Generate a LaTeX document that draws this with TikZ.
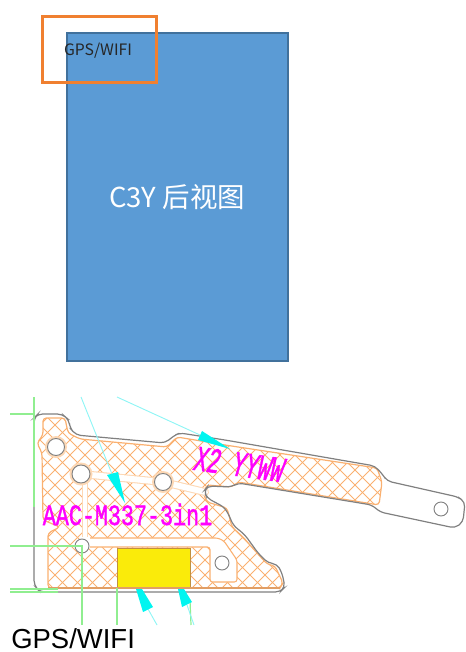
\documentclass[tikz,border=0pt]{standalone}
\usepackage{fontspec}
\usepackage{graphicx}
\setmainfont{Liberation Sans}
\newfontfamily\cjkfont{Noto Sans CJK SC}
\newfontfamily\cadfont{Liberation Mono}[FakeBold=1.5]
\newfontfamily\cadslant{Liberation Mono}[FakeSlant=0.25,FakeBold=1.5]
\definecolor{boxblue}{HTML}{5B9BD5}
\definecolor{boxedge}{HTML}{41719C}
\definecolor{boxorange}{HTML}{F08030}
\definecolor{hatchorange}{HTML}{FAB070}
\definecolor{haloorange}{HTML}{FDD8B5}
\definecolor{cadgreen}{HTML}{90EE90}
\definecolor{cadcyan}{HTML}{00F5F0}
\definecolor{cadline}{HTML}{8FF5F5}
\definecolor{outlinegray}{HTML}{808080}
\definecolor{cadmagenta}{HTML}{FF00FF}
\definecolor{patchyellow}{HTML}{FAEB0A}
\definecolor{patchedge}{HTML}{C09040}
\tikzset{
  outlinepart/.style={draw=outlinegray,line width=0.9pt,rounded corners=3.5pt},
  hatchedge/.style={draw=hatchorange,line width=0.9pt,rounded corners=2.5pt},
  hatchline/.style={draw=hatchorange,line width=0.75pt},
  channel/.style={draw=hatchorange,line width=0.8pt,fill=white,rounded corners=2pt},
  hole/.style={draw=outlinegray,line width=0.7pt,fill=white},
  greenline/.style={draw=cadgreen,line width=0.9pt},
  cyanline/.style={draw=cadline,line width=0.7pt},
  cyanhead/.style={fill=cadcyan,draw=none},
  cadtext/.style={text=cadmagenta,inner sep=0pt,anchor=center},
}
\begin{document}
\begin{tikzpicture}[x=0.75pt,y=-0.75pt]
\useasboundingbox (0,0) rectangle (465,652);
% upper drawing
\node[draw=boxedge,fill=boxblue,line width=1.5pt,minimum width=166pt,minimum height=246pt,inner sep=0pt] (back) at (177.5,197) {};
\node[draw=boxorange,line width=2.2pt,minimum width=86pt,minimum height=50pt,inner sep=0pt] (mark) at (99.5,49.5) {};
\node[inner sep=0pt,text=black!85] (marktext) at (98,51) {\cjkfont\fontsize{11.8pt}{13pt}\selectfont GPS/WIFI};
\node[inner sep=0pt,text=white] (backtext) at (177,197) {\cjkfont\fontsize{20.6pt}{24pt}\selectfont C3Y 后视图};
% hatch area
\begin{scope}
\clip[rounded corners=2.5pt] (43,418) -- (65,418) -- (68,433) -- (80,439) -- (167,447) -- (177,437) -- (225,445) -- (377,468) -- (382,482) -- (379,505) -- (238,482) -- (232,487) -- (207,485) -- (203,493) -- (207,502) -- (227,508) -- (232,527) -- (243,537) -- (257,553) -- (267,564) -- (275,566) -- (283,583) -- (280,588) -- (48,588) -- (48,533) -- (60,527) -- (43,520) -- (42,453) -- (37,443) -- (43,435) -- cycle;
\foreach \i in {-300,-285,...,600} {
  \draw[hatchline] (\i,400) -- (\i+200,600);
  \draw[hatchline] (\i+200,400) -- (\i,600);
}
\end{scope}
\draw[hatchedge] (43,418) -- (65,418) -- (68,433) -- (80,439) -- (167,447) -- (177,437) -- (225,445) -- (377,468) -- (382,482) -- (379,505) -- (238,482) -- (232,487) -- (207,485) -- (203,493) -- (207,502) -- (227,508) -- (232,527) -- (243,537) -- (257,553) -- (267,564) -- (275,566) -- (283,583) -- (280,588) -- (48,588) -- (48,533) -- (60,527) -- (43,520) -- (42,453) -- (37,443) -- (43,435) -- cycle;
% channels between hatched parts
\draw[haloorange,line width=6pt,line cap=round] (81,474) -- (163,482) -- (205,492);
\draw[white,line width=4.4pt,line cap=round] (81,474) -- (163,482) -- (205,492);
\draw[haloorange,line width=5pt] (85,476) -- (85,541);
\draw[white,line width=3.4pt] (85,476) -- (85,541);
\draw[channel] (86,538) -- (218,538) -- (224,541) -- (237,560) -- (237,582) -- (210,582) -- (210,547) -- (86,547) -- cycle;
\draw[draw=none,fill=white] (80,537) rectangle (90,548);
% part outline
\draw[outlinepart] (34,585) -- (34,418) -- (38,414) -- (62,414) -- (69,420) -- (70,428) -- (76,435) -- (165,443) -- (175,435) -- (180,433) -- (225,440) -- (375,466) -- (383,475) -- (387,481) -- (458,497) -- (465,502) -- (463,522) -- (455,528) -- (380,512) -- (372,505) -- (238,483) -- (231,487) -- (208,486) -- (204,491) -- (207,498) -- (224,507) -- (229,515) -- (233,525) -- (245,535) -- (258,553) -- (268,563) -- (277,564) -- (282,573) -- (285,587) -- (280,592) -- (40,592) -- cycle;
% holes
\foreach \nm/\cx/\cy/\rr in {ha/56/447/11,hb/81/474/11.5,hc/163/482/11} {
  \fill[haloorange] (\cx,\cy) circle[radius=\rr];
}
\foreach \nm/\cx/\cy/\rr in {ha/56/447/8.5,hb/81/474/9,hc/163/482/8.5,hd/82/546/7,he/222/563/7,hf/441/509/7} {
  \draw[hole] (\cx,\cy) circle[radius=\rr];
}
% yellow patch
\fill[fill=patchyellow,draw=patchedge,line width=0.5pt] (117,548) rectangle (190,588);
\draw[hatchorange!90!black,line width=0.8pt] (48,588) -- (280,588);
% green construction lines
\coordinate (ga) at (34,397); \coordinate (gb) at (34,507);
\coordinate (gc) at (10,414); \coordinate (gd) at (35,414);
\coordinate (ge) at (10,546); \coordinate (gf) at (82,546);
\coordinate (gg) at (82,625); \coordinate (gh) at (117,588);
\coordinate (gi) at (117,625); \coordinate (gj) at (10,589);
\coordinate (gk) at (58,589); \coordinate (gl) at (10,592);
\coordinate (gm) at (58,592); \coordinate (gn) at (190,600);
\coordinate (go) at (191,625);
\draw[greenline] (ga) -- (gb);
\draw[greenline] (gc) -- (gd);
\draw[greenline] (ge) -- (gf) -- (gg);
\draw[greenline] (gh) -- (gi);
\draw[greenline] (gj) -- (gk);
\draw[greenline] (gl) -- (gm);
\draw[greenline] (gn) -- (go);
% cyan leaders and arrowheads
\draw[cyanline] (81,397) -- (112,474);
\fill[cyanhead] (107,475) -- (118,472) -- (125,503) -- cycle;
\draw[cyanline] (117,397) -- (200,435);
\fill[cyanhead] (202,431) -- (198,440) -- (230,449) -- cycle;
\draw[cyanline] (148,609) -- (157,625);
\fill[cyanhead] (136,589) -- (142,589) -- (153,607) -- (143,612) -- cycle;
\draw[cyanline] (187,605) -- (194,625);
\fill[cyanhead] (178,589) -- (184,589) -- (192,602) -- (182,607) -- cycle;
% CAD texts
\node[cadtext] (partno) at (127.5,514.5) {\resizebox{127pt}{16pt}{\cadfont AAC-M337-3in1}};
\node[cadtext,rotate=-8] (datecode) at (238,464) {\resizebox{67pt}{18pt}{\cadslant X2 YYWW}};
% caption
\node[inner sep=0pt,anchor=base west] (caption) at (11,648) {\fontsize{20.6pt}{24pt}\selectfont GPS/WIFI};
\end{tikzpicture}
\end{document}
